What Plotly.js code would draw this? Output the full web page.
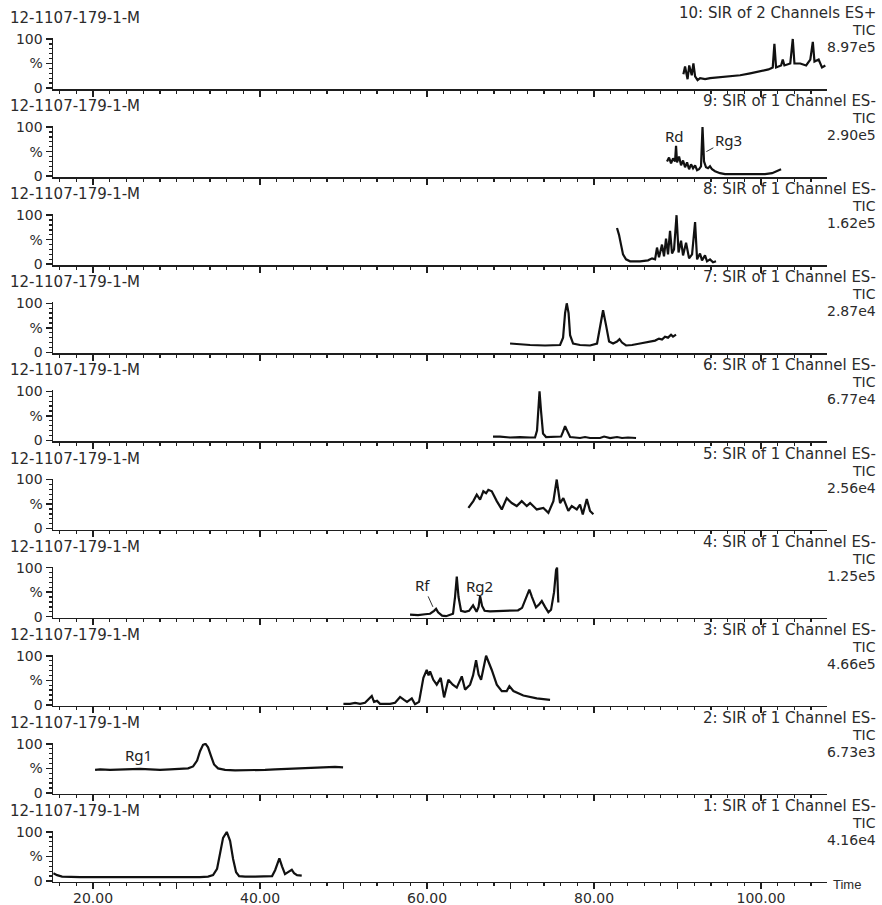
<!DOCTYPE html>
<html>
<head>
<meta charset="utf-8">
<script src="https://cdn.plot.ly/plotly-3.0.1.min.js"></script>
<style>html,body{margin:0;padding:0;background:#fff;}#chart{width:882px;height:905px;}</style>
</head>
<body>
<div id="chart"></div>
<script>
// ---- data (time in minutes, intensity in %) ----
const sampleName = "12-1107-179-1-M";
const channelText = [
  "10: SIR of 2 Channels ES+", "9: SIR of 1 Channel ES-", "8: SIR of 1 Channel ES-",
  "7: SIR of 1 Channel ES-", "6: SIR of 1 Channel ES-", "5: SIR of 1 Channel ES-",
  "4: SIR of 1 Channel ES-", "3: SIR of 1 Channel ES-", "2: SIR of 1 Channel ES-",
  "1: SIR of 1 Channel ES-"
];
const ticText = "TIC";
const scaleText = ["8.97e5","2.90e5","1.62e5","2.87e4","6.77e4","2.56e4","1.25e5","4.66e5","6.73e3","4.16e4"];
const xTickVals = [20,30,40,50,60,70,80,90,100];
const xTickText = ["20.00","","40.00","","60.00","","80.00","","100.00"];
const yTickVals = [0,50,100];
const yTickText = ["0","%","100"];

const t10 = [90.7,90.9,91.2,91.4,91.7,91.9,92.1,92.4,92.7,93.3,93.9,95.1,96.3,97.5,98.7,99.9,100.9,101.4,101.6,101.8,102.4,102.6,102.8,103.5,103.8,104.0,104.7,105.4,105.9,106.2,106.4,106.9,107.3,107.7];
const s10 = [28,44,18,46,26,50,24,16,20,18,20,22,24,26,30,34,38,42,90,42,46,58,46,50,100,50,50,46,58,94,54,58,42,46];

const t9 = [88.74,88.98,89.22,89.46,89.70,89.82,89.94,90.18,90.42,90.66,90.90,91.14,91.38,91.62,91.86,92.10,92.34,92.57,92.81,92.99,93.17,93.41,93.65,93.89,94.13,94.49,95.09,95.69,96.89,98.68,100.48,101.32,101.92,102.40];
const s9 = [30,38,26,36,30,62,28,40,22,32,18,28,14,24,16,22,12,14,20,100,30,18,16,20,14,10,6,4,4,4,4,6,10,14];

const t8 = [82.75,82.99,83.23,83.47,83.83,84.31,85.51,86.47,86.95,87.31,87.54,87.78,88.14,88.38,88.62,88.86,89.10,89.34,89.58,89.88,90.12,90.42,90.66,91.02,91.38,91.74,92.10,92.34,92.69,92.93,93.29,93.53,93.89,94.25,94.61];
const s8 = [74,60,40,20,10,6,6,8,12,10,34,14,40,16,52,20,68,22,30,100,24,48,18,44,12,20,86,10,22,8,18,6,10,4,6];

const t7 = [69.94,71.14,72.34,74.13,75.33,75.93,76.29,76.53,76.73,76.95,77.13,77.49,78.32,79.52,80.36,80.72,81.08,81.44,81.80,82.28,82.75,83.05,83.35,83.83,84.55,85.51,86.11,86.71,87.31,87.78,88.14,88.50,88.86,89.22,89.46,89.82];
const s7 = [18,16,15,14,14,15,30,80,100,80,35,18,15,14,18,50,86,55,22,18,22,27,20,14,15,18,20,22,24,28,26,32,30,36,32,36];

const t6 = [67.90,68.74,69.94,71.14,72.34,72.93,73.17,73.35,73.47,73.65,73.89,74.25,75.33,76.05,76.29,76.53,76.77,77.13,78.32,78.92,79.52,80.72,81.20,81.92,82.75,83.35,84.07,85.03];
const s6 = [8,8,6,7,6,6,20,70,100,60,14,7,7,8,18,29,20,7,5,7,5,5,8,5,7,5,6,5];

const t5 = [64.95,65.27,65.54,65.95,66.35,66.74,67.07,67.34,67.75,68.35,68.95,69.54,70.14,70.74,71.34,71.94,72.34,73.14,73.93,74.53,75.13,75.53,75.93,76.32,76.92,77.33,77.93,78.32,78.65,79.13,79.52,79.92];
const s5 = [42,50,56,69,59,76,72,79,76,56,39,62,52,46,56,46,52,39,42,32,56,100,52,62,36,46,39,49,29,60,36,29];

const t4 = [57.96,58.92,59.76,60.36,60.84,61.08,61.32,61.80,62.28,62.75,63.11,63.35,63.56,63.77,64.07,64.55,65.03,65.51,65.93,66.17,66.35,66.59,66.89,67.54,68.74,69.94,70.90,71.38,71.86,72.25,72.57,73.05,73.41,73.74,74.13,74.53,74.85,75.21,75.45,75.57,75.72];
const s4 = [4,3,5,6,12,16,9,2,1,3,6,40,82,40,12,10,12,23,10,20,42,22,12,11,12,12,13,18,40,55,40,19,25,32,20,9,14,50,95,100,29];

const t3 = [49.98,50.78,51.38,51.98,52.57,52.93,53.38,53.65,54.01,54.37,55.57,56.17,56.77,57.25,57.60,58.17,58.56,59.04,59.28,59.56,59.96,60.18,60.36,60.75,61.16,61.64,62.04,62.55,63.08,63.56,64.16,64.55,65.15,65.51,65.87,66.17,66.47,67.07,67.75,68.35,68.95,69.54,69.86,70.34,71.53,73.14,74.73];
const s3 = [2,2,4,2,4,10,18,6,8,2,2,4,16,10,6,13,1,6,30,55,71,60,68,51,41,55,15,51,41,35,58,31,41,60,91,62,51,100,71,41,28,28,38,28,19,13,10];

const t2 = [20.24,20.84,22.04,23.23,24.43,25.63,26.83,28.02,29.22,30.42,31.38,31.98,32.46,32.81,33.17,33.47,33.77,34.13,34.49,34.97,35.81,37.01,38.20,39.40,40.60,41.80,42.99,44.19,45.39,46.59,47.78,48.98,49.94];
const s2 = [47,48,47,48,49,49,48,47,48,49,50,54,66,85,98,100,93,75,58,50,47,46,46,47,47,48,49,50,50,51,52,53,52];

const t1 = [15.25,15.69,16.29,17.25,18.44,19.64,20.84,22.04,23.23,24.43,25.99,26.83,28.02,29.22,30.42,31.62,32.81,33.77,34.37,34.85,35.21,35.57,36.01,36.41,36.77,37.13,37.49,38.20,39.40,40.60,41.44,41.80,42.31,42.63,42.99,43.35,43.80,44.07,44.43,44.99];
const s1 = [16,12,9,8,8,8,8,8,7,7,8,7,8,7,7,7,8,9,12,25,55,88,100,82,45,18,10,9,9,9,10,22,46,30,14,18,23,16,12,11];

const times = [t10,t9,t8,t7,t6,t5,t4,t3,t2,t1];
const series = [s10,s9,s8,s7,s6,s5,s4,s3,s2,s1];

// ---- layout ----
const W = 882, H = 905;
const axisLeft = 53, axisRight = 827;
const firstAxisY = 89, pitch = 88.11, plotH = 51;
const textColor = '#2b2b2b';
const lineColor = '#1e1e1e';
const fontMain = 'DejaVu Sans';

const traces = [];
const layout = {
  width: W, height: H,
  margin: {l:0, r:0, t:0, b:0},
  paper_bgcolor: '#fff', plot_bgcolor: '#fff',
  showlegend: false,
  annotations: [],
  font: {family: fontMain, color: textColor}
};

function py(p) { return 1 - p / H; }

for (let i = 0; i < 10; i++) {
  const n = i + 1;
  const sfx = n === 1 ? '' : String(n);
  const y0 = firstAxisY + i * pitch;
  const bottom = (i === 9);
  traces.push({
    x: times[i], y: series[i], type: 'scatter', mode: 'lines',
    xaxis: 'x' + sfx, yaxis: 'y' + sfx,
    line: {color: '#111', width: 2.2}, hoverinfo: 'skip'
  });
  layout['xaxis' + sfx] = {
    domain: [axisLeft / W, axisRight / W],
    range: [15.2, 107.9],
    anchor: 'y' + sfx,
    showline: true, linecolor: lineColor, linewidth: 1.5,
    ticks: 'outside', ticklen: 6, tickwidth: 1.5, tickcolor: lineColor,
    tickmode: 'array', tickvals: xTickVals, ticktext: xTickText,
    showticklabels: bottom, ticklabelstandoff: -3,
    minor: {tickmode: 'linear', tick0: 0, dtick: 2, ticks: 'outside', ticklen: 3, tickwidth: 1.3, tickcolor: lineColor},
    showgrid: false, zeroline: false, fixedrange: true,
    tickfont: {family: fontMain, size: 14, color: textColor}
  };
  if (n > 1) layout['xaxis' + sfx].matches = 'x';
  layout['yaxis' + sfx] = {
    domain: [py(y0), py(y0 - plotH)],
    range: [-2, 102],
    anchor: 'x' + sfx,
    showline: true, linecolor: lineColor, linewidth: 1.5,
    ticks: 'outside', ticklen: 6, tickwidth: 1.5, tickcolor: lineColor,
    tickmode: 'array', tickvals: yTickVals, ticktext: yTickText,
    minor: {tickmode: 'linear', tick0: 0, dtick: 10, ticks: 'outside', ticklen: 3, tickwidth: 1.3, tickcolor: lineColor},
    showgrid: false, zeroline: false, fixedrange: true,
    tickfont: {family: fontMain, size: 14, color: textColor}
  };
  // titles
  layout.annotations.push({
    xref: 'paper', yref: 'paper', x: 8 / W, y: py(y0 - 71), xanchor: 'left', yanchor: 'middle',
    text: sampleName, showarrow: false, font: {family: fontMain, size: 15, color: textColor}
  });
  layout.annotations.push({
    xref: 'paper', yref: 'paper', x: 878 / W, y: py(y0 - 76), xanchor: 'right', yanchor: 'middle',
    text: channelText[i], showarrow: false, font: {family: fontMain, size: 15, color: textColor}
  });
  layout.annotations.push({
    xref: 'paper', yref: 'paper', x: 878 / W, y: py(y0 - 59), xanchor: 'right', yanchor: 'middle',
    text: ticText, showarrow: false, font: {family: fontMain, size: 14, color: textColor}
  });
  layout.annotations.push({
    xref: 'paper', yref: 'paper', x: 878 / W, y: py(y0 - 42), xanchor: 'right', yanchor: 'middle',
    text: scaleText[i], showarrow: false, font: {family: fontMain, size: 14, color: textColor}
  });
}

// Time label
layout.annotations.push({
  xref: 'paper', yref: 'paper', x: 831 / W, y: py(884), xanchor: 'left', yanchor: 'middle',
  text: 'Time', showarrow: false, font: {family: 'Liberation Sans', size: 13, color: textColor}
});

// peak labels
const lblFont = {family: 'Noto Sans', size: 15, color: '#222'};
layout.annotations.push({xref: 'x2', yref: 'y2', x: 89.58, y: 82, text: 'Rd', showarrow: false, font: lblFont});
layout.annotations.push({xref: 'x2', yref: 'y2', x: 93.45, y: 50, text: 'Rg3', showarrow: true, arrowhead: 0, arrowwidth: 1, arrowcolor: '#333', ax: 22, ay: -12, font: lblFont});
layout.annotations.push({xref: 'x7', yref: 'y7', x: 60.7, y: 20, text: 'Rf', showarrow: true, arrowhead: 0, arrowwidth: 1, arrowcolor: '#333', ax: -10, ay: -22, font: lblFont});
layout.annotations.push({xref: 'x7', yref: 'y7', x: 66.29, y: 63, text: 'Rg2', showarrow: false, font: lblFont});
layout.annotations.push({xref: 'x9', yref: 'y9', x: 25.39, y: 78, text: 'Rg1', showarrow: false, font: lblFont});

Plotly.newPlot('chart', traces, layout, {staticPlot: true, displayModeBar: false});
</script>
</body>
</html>
